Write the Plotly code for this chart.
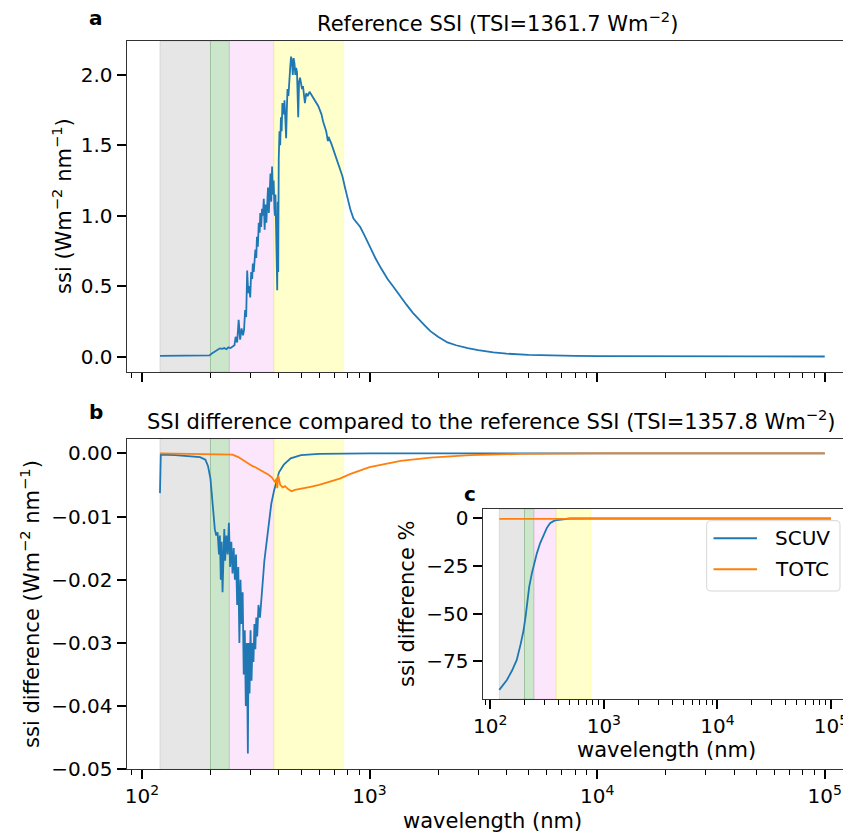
import plotly.graph_objects as go

# The page puts the figure 8 px in from the top-left corner, so every pixel
# position below is given in window pixels and shifted by OFF.
OFF = 8
WIN_W, WIN_H = 851, 835
W, H = WIN_W - OFF, WIN_H - OFF
BLUE = "#1f77b4"
ORANGE = "#ff7f0e"
FONT = "DejaVu Sans"

# ---------------- data ----------------
# panel a: reference spectral solar irradiance
ref_wl = [120, 150, 180, 198, 202, 208, 212, 216, 220, 225, 230, 235, 240, 245, 250,
          255, 258, 262, 266, 270, 274, 278, 281, 284, 287, 290, 293, 296, 299, 302,
          305, 307, 310, 313, 315, 318, 320, 323, 326, 329, 331, 334, 337, 340, 343,
          346, 349, 352, 355, 358, 361, 364, 367, 370, 373, 376, 379, 382, 384, 386,
          388, 391, 393, 395, 397, 399, 402, 405, 408, 411, 414, 417, 420, 423, 427,
          430, 433, 436, 440, 444, 448, 452, 456, 460, 464, 468, 472, 476, 480, 486,
          490, 495, 500, 505, 510, 515, 520, 527, 535, 545, 555, 565, 575, 585, 595,
          605, 615, 625, 635, 645, 656, 660, 680, 700, 720, 740, 760, 780, 800, 825,
          850, 880, 910, 950, 1000, 1060, 1120, 1200, 1280, 1360, 1450, 1550, 1650,
          1750, 1850, 2000, 2200, 2400, 2700, 3000, 3500, 4000, 5000, 6000, 8000,
          10000, 20000, 50000, 100000]
ref_ssi = [0.005, 0.004, 0.005, 0.008, 0.02, 0.035, 0.04, 0.05, 0.058, 0.055, 0.06, 0.052, 0.065, 0.06, 0.07,
           0.08, 0.14, 0.10, 0.26, 0.12, 0.20, 0.15, 0.19, 0.33, 0.28, 0.61, 0.45, 0.50, 0.42, 0.60,
           0.55, 0.66, 0.60, 0.72, 0.76, 0.70, 0.85, 0.78, 0.95, 0.88, 1.02, 0.92, 1.05, 1.00, 1.12,
           0.90, 1.08, 0.95, 1.10, 1.20, 1.02, 1.15, 1.30, 1.10, 1.35, 1.15, 1.25, 1.05, 1.00, 1.15,
           0.90, 0.65, 0.47, 1.10, 0.60, 1.40, 1.60, 1.50, 1.70, 1.60, 1.80, 1.75, 1.72, 1.82, 1.70,
           1.55, 1.75, 1.90, 1.85, 2.02, 2.05, 2.13, 2.10, 2.00, 2.12, 2.08, 2.00, 2.05, 2.02, 1.70,
           1.95, 1.98, 1.95, 1.90, 1.92, 1.85, 1.80, 1.87, 1.85, 1.88, 1.86, 1.84, 1.82, 1.80, 1.78,
           1.75, 1.72, 1.67, 1.64, 1.60, 1.53, 1.56, 1.51, 1.45, 1.40, 1.35, 1.28, 1.20, 1.12, 1.04,
           0.98, 0.95, 0.92, 0.86, 0.78, 0.70, 0.63, 0.55, 0.49, 0.43, 0.37, 0.31, 0.26,
           0.22, 0.18, 0.14, 0.10, 0.08, 0.06, 0.045, 0.03, 0.02, 0.012, 0.008, 0.005,
           0.003, 0.002, 0.001, 0.0]

# panel b: SSI difference (W m-2 nm-1)
scuv_wl = [120, 121, 140, 160, 180, 190, 195, 200, 203, 206, 209, 212, 215, 218, 220,
           222, 224, 226, 228, 230, 232, 235, 238, 241, 244, 247, 250, 253, 256, 259,
           262, 265, 268, 271, 274, 277, 280, 283, 286, 289, 292, 294, 297, 300, 303,
           306, 309, 312, 315, 318, 321, 325, 330, 335, 340, 345, 350, 360, 370, 380,
           390, 400, 420, 450, 500, 600, 1000, 100000]
scuv_diff = [-0.0063, -0.0002, -0.0003, -0.0004, -0.0006, -0.001, -0.002, -0.004, -0.007, -0.010, -0.012, -0.013, -0.0125, -0.016, -0.013,
             -0.020, -0.014, -0.022, -0.015, -0.012, -0.017, -0.013, -0.016, -0.011, -0.018, -0.014, -0.019, -0.015, -0.020, -0.016,
             -0.024, -0.018, -0.030, -0.020, -0.027, -0.022, -0.035, -0.028, -0.040, -0.030, -0.0475, -0.030, -0.038, -0.028, -0.036,
             -0.030, -0.033, -0.027, -0.031, -0.026, -0.029, -0.024, -0.026, -0.022, -0.020, -0.017, -0.015, -0.011, -0.008, -0.006,
             -0.0045, -0.003, -0.0018, -0.0008, -0.0003, -0.0001, 0.0, 0.0]
totc_wl = [120, 200, 250, 265, 275, 285, 295, 305, 315, 330, 345, 360, 372, 380, 385,
           390, 393, 397, 405, 415, 425, 440, 455, 470, 495, 520, 550, 600, 670, 740,
           820, 1000, 1370, 1850, 2770, 4600, 10000, 100000]
totc_diff = [0.0, -0.0001, -0.0002, -0.0006, -0.0010, -0.0013, -0.0017, -0.0020, -0.0022, -0.0026, -0.0030, -0.0034, -0.0038, -0.0042, -0.0046,
             -0.0040, -0.0055, -0.0035, -0.0050, -0.0054, -0.0052, -0.0057, -0.0060, -0.0058, -0.0056, -0.0055, -0.0053, -0.0050, -0.0045, -0.0040,
             -0.0033, -0.0022, -0.0012, -0.0007, -0.0003, -0.0001, 0.0, 0.0]

# panel c: SSI difference in percent
pct_wl_scuv = [120, 130, 140, 155, 171, 185, 196, 205, 212, 220, 232, 245, 257, 275, 293,
               315, 336, 360, 385, 430, 500, 700, 100000]
scuv_pct = [-90.0, -87.5, -84.8, -80.0, -74.3, -66.0, -59.0, -51.0, -44.0, -36.0, -29.0, -23.0, -18.4, -13.0, -8.8,
            -5.0, -2.6, -1.5, -0.9, -0.4, -0.1, 0.0, 0.0]
pct_wl_totc = [120, 1000, 10000, 100000]
totc_pct = [-0.29, -0.29, -0.29, -0.29]

series_names = ["SCUV", "TOTC"]

# spectral bands shaded in every panel
band_lo = [120, 200, 242, 380]
band_hi = [200, 242, 380, 770]
band_rgb = ["128,128,128", "0,128,0", "238,130,238", "255,255,0"]

major_x = [100, 1000, 10000, 100000]
major_x_text = ["10<sup>2</sup>", "10<sup>3</sup>", "10<sup>4</sup>", "10<sup>5</sup>"]
minor_x = [90] + [m * 10 ** e for e in (2, 3, 4) for m in range(2, 10)]

ya_ticks = [0.0, 0.5, 1.0, 1.5, 2.0]
yb_ticks = [0.0, -0.01, -0.02, -0.03, -0.04, -0.05]
yc_ticks = [0, -25, -50, -75]

# ---------------- figure ----------------
def fx(p):
    return (p - OFF) / W

def fy(p):
    return 1 - (p - OFF) / H

fig = go.Figure()
fig.add_trace(go.Scatter(x=ref_wl, y=ref_ssi, mode="lines", line=dict(color=BLUE, width=1.8),
                         xaxis="x", yaxis="y", showlegend=False))
fig.add_trace(go.Scatter(x=scuv_wl, y=scuv_diff, mode="lines", line=dict(color=BLUE, width=1.8),
                         xaxis="x2", yaxis="y2", showlegend=False))
fig.add_trace(go.Scatter(x=totc_wl, y=totc_diff, mode="lines", line=dict(color=ORANGE, width=1.8),
                         xaxis="x2", yaxis="y2", showlegend=False))
fig.add_trace(go.Scatter(x=pct_wl_scuv, y=scuv_pct, mode="lines", line=dict(color=BLUE, width=1.8),
                         xaxis="x3", yaxis="y3", name=series_names[0], showlegend=False))
fig.add_trace(go.Scatter(x=pct_wl_totc, y=totc_pct, mode="lines", line=dict(color=ORANGE, width=1.8),
                         xaxis="x3", yaxis="y3", name=series_names[1], showlegend=False))

LINE = "#333333"
tickfont = dict(family=FONT, size=20, color="black")

def xaxis(domain, rng, labels, anchor):
    return dict(type="log", domain=domain, range=rng, anchor=anchor,
                tickmode="array", tickvals=major_x, ticktext=major_x_text,
                showticklabels=labels, ticks="outside", ticklen=9, tickwidth=1.8, tickcolor="black",
                minor=dict(tickmode="array", tickvals=minor_x, ticks="outside", ticklen=5,
                           tickwidth=1.3, tickcolor="black"),
                showline=True, linecolor=LINE, linewidth=1.3, mirror=True,
                showgrid=False, zeroline=False, tickfont=tickfont, automargin=False)

def yaxis(domain, rng, vals, texts, anchor, mirror=False):
    return dict(domain=domain, range=rng, anchor=anchor, tickmode="array", tickvals=vals, ticktext=texts,
                ticks="outside", ticklen=9, tickwidth=1.8, tickcolor="black",
                showline=True, linecolor=LINE, linewidth=1.3, mirror=mirror,
                showgrid=False, zeroline=False, tickfont=tickfont, automargin=False)

main_dom_x = [fx(126.7), 1.0]
main_rng_x = [1.933, 1.933 + (WIN_W - 126.7) / 227.6]
inset_dom_x = [fx(482.7), fx(847.5)]
inset_rng_x = [1.933, 5.146]

fig.update_layout(
    xaxis=xaxis(main_dom_x, main_rng_x, False, "y"),
    yaxis=yaxis([fy(372), fy(41.3)], [-0.110, 2.239], ya_ticks, [f"{v:.1f}" for v in ya_ticks], "x"),
    xaxis2=xaxis(main_dom_x, main_rng_x, True, "y2"),
    yaxis2=yaxis([fy(769.3), fy(438.7)], [-0.05, 0.00231], yb_ticks,
                 [f"{v:.2f}".replace("-", "\u2212") for v in yb_ticks], "x2"),
    xaxis3=xaxis(inset_dom_x, inset_rng_x, True, "y3"),
    yaxis3=yaxis([fy(699), fy(509.3)], [-94.8, 4.72], yc_ticks,
                 [str(v).replace("-", "\u2212") for v in yc_ticks], "x3", mirror=True),
)

shapes = []
for xr, yr in (("x", "y"), ("x2", "y2"), ("x3", "y3")):
    for lo, hi, rgb in zip(band_lo, band_hi, band_rgb):
        shapes.append(dict(type="rect", xref=xr, yref=yr + " domain", x0=lo, x1=hi, y0=0, y1=1,
                           fillcolor=f"rgba({rgb},0.2)", line=dict(color=f"rgba({rgb},0.2)", width=1),
                           layer="below"))

# legend of the inset (drawn by hand to match the reference box)
lx0, lx1, ly0, ly1, r = 706.7, 840.0, 520.7, 591.0, 4.0
def P(x, y):
    return f"{fx(x):.5f},{fy(y):.5f}"
legend_path = (f"M{P(lx0 + r, ly0)} L{P(lx1 - r, ly0)} Q{P(lx1, ly0)} {P(lx1, ly0 + r)} "
               f"L{P(lx1, ly1 - r)} Q{P(lx1, ly1)} {P(lx1 - r, ly1)} L{P(lx0 + r, ly1)} "
               f"Q{P(lx0, ly1)} {P(lx0, ly1 - r)} L{P(lx0, ly0 + r)} Q{P(lx0, ly0)} {P(lx0 + r, ly0)} Z")
shapes.append(dict(type="path", xref="paper", yref="paper", path=legend_path,
                   fillcolor="rgba(255,255,255,0.8)", line=dict(color="#d6d6d6", width=1), layer="above"))
legend_rows = [538.3, 569.3]
for yrow, col in zip(legend_rows, [BLUE, ORANGE]):
    shapes.append(dict(type="line", xref="paper", yref="paper", x0=fx(713.5), x1=fx(757), y0=fy(yrow), y1=fy(yrow),
                       line=dict(color=col, width=2), layer="above"))
fig.update_layout(shapes=shapes)

def ann(text, x, y, size=21, angle=0, bold=False, xanchor="center"):
    return dict(text=f"<b>{text}</b>" if bold else text, x=fx(x), y=fy(y), xref="paper", yref="paper",
                showarrow=False, textangle=angle, xanchor=xanchor, yanchor="middle",
                font=dict(family=FONT, size=size, color="black"))

anns = [
    ann("a", 96, 18, size=20, bold=True),
    ann("b", 96, 412, size=20, bold=True),
    ann("c", 470, 494, size=20, bold=True),
    ann("Reference SSI (TSI=1361.7 Wm<sup>\u22122</sup>)", 497, 22),
    ann("SSI difference compared to the reference SSI (TSI=1357.8 Wm<sup>\u22122</sup>)", 491, 420),
    ann("ssi (Wm<sup>\u22122</sup> nm<sup>\u22121</sup>)", 62, 206, angle=-90),
    ann("ssi difference (Wm<sup>\u22122</sup> nm<sup>\u22121</sup>)", 30, 604, angle=-90),
    ann("wavelength (nm)", 492, 821),
    ann("ssi difference %", 407, 604, angle=-90),
    ann("wavelength (nm)", 666, 750),
]
for name, yrow in zip(series_names, legend_rows):
    anns.append(ann(name, 773, yrow, size=20, xanchor="left"))
fig.update_layout(annotations=anns)

fig.update_layout(
    width=W, height=H, margin=dict(l=0, r=0, t=0, b=0),
    paper_bgcolor="white", plot_bgcolor="rgba(0,0,0,0)",
    font=dict(family=FONT, size=20, color="black"),
    showlegend=False,
)

fig.write_html("out.html")
